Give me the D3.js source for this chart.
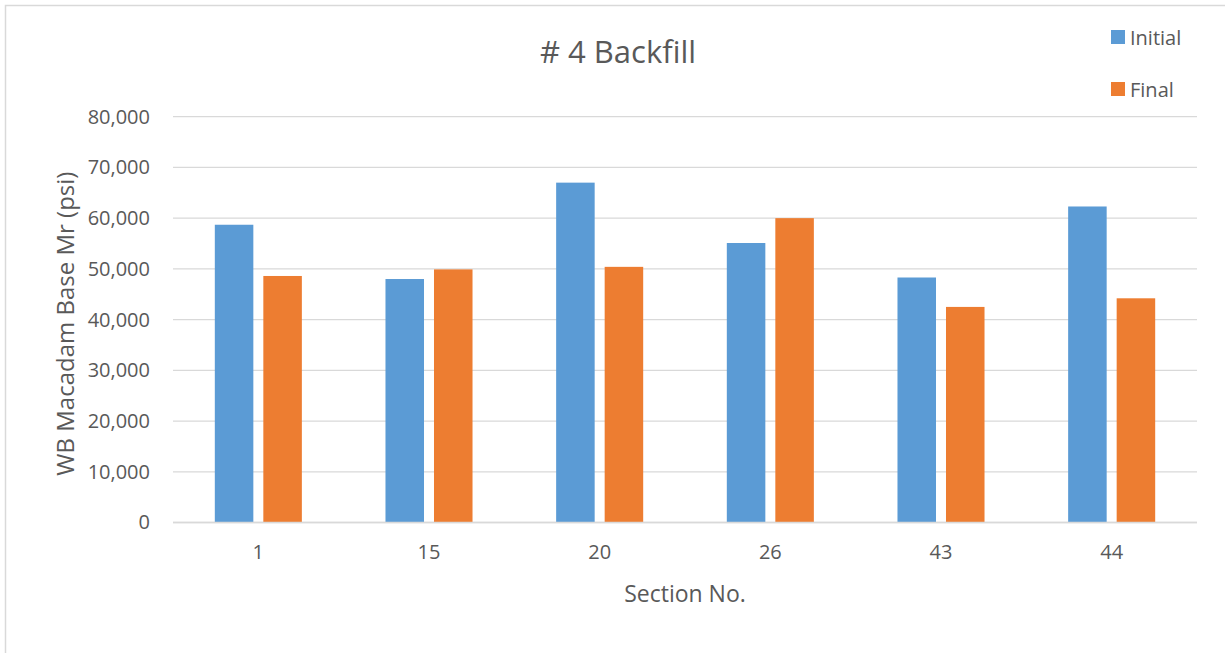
<!DOCTYPE html>
<html>
<head>
<meta charset="utf-8">
<script src="https://cdn.jsdelivr.net/npm/d3@7"></script>
<style>
  html, body { margin: 0; padding: 0; background: #fff; }
  svg { display: block; font-family: "Open Sans", sans-serif; }
</style>
</head>
<body>
<svg id="chart" width="1225" height="653"></svg>
<script>
// Section numbers along the x axis
const sections = ["1", "15", "20", "26", "43", "44"];
// Series names, drawn side by side within each section
const seriesNames = ["Initial", "Final"];
// Resilient modulus, psi
const initialValues = [58700, 48000, 67000, 55100, 48300, 62300];
const finalValues = [48600, 49900, 50400, 60000, 42500, 44200];
const seriesColors = ["#5B9BD5", "#ED7D31"];
const yTicks = [0, 10000, 20000, 30000, 40000, 50000, 60000, 70000, 80000];

const rows = sections.map((s, i) => ({ section: s, values: [initialValues[i], finalValues[i]] }));

const svg = d3.select("#chart");
const W = 1225, H = 653;
const plot = { left: 173, right: 1197, top: 116.7, bottom: 522.5 };

// chart area outline
svg.append("rect")
  .attr("x", 5.5).attr("y", 5.5)
  .attr("width", W + 20).attr("height", H + 20)
  .attr("fill", "#fff").attr("stroke", "#D9D9D9").attr("stroke-width", 1.5);

const x0 = d3.scaleBand().domain(sections).range([plot.left, plot.right]).paddingInner(0).paddingOuter(0);
const groupFrac = 0.51;
const x1 = d3.scaleBand().domain(seriesNames)
  .range([0, x0.bandwidth() * groupFrac]).paddingInner(0.206).paddingOuter(0);
const y = d3.scaleLinear().domain([0, 80000]).range([plot.bottom, plot.top]);

// gridlines
svg.append("g")
  .selectAll("line").data(yTicks).join("line")
  .attr("x1", plot.left).attr("x2", plot.right)
  .attr("y1", d => y(d)).attr("y2", d => y(d))
  .attr("stroke", "#D9D9D9").attr("stroke-width", 1.3);

// y axis labels
const yAxis = d3.axisLeft(y).tickValues(yTicks).tickSize(0).tickPadding(0)
  .tickFormat(d3.format(","));
svg.append("g").attr("transform", `translate(${plot.left - 23},0)`).call(yAxis)
  .call(g => g.select(".domain").remove())
  .call(g => g.selectAll("text").attr("fill", "#595959")
    .style("font-size", "20px").style("font-family", "'Open Sans', sans-serif"));

// bars
const groups = svg.append("g").selectAll("g").data(rows).join("g")
  .attr("transform", d => `translate(${x0(d.section) + x0.bandwidth() * (1 - groupFrac) / 2},0)`);
groups.selectAll("rect")
  .data(d => d.values.map((v, i) => ({ name: seriesNames[i], value: v, i })))
  .join("rect")
  .attr("x", d => x1(d.name))
  .attr("width", x1.bandwidth())
  .attr("y", d => y(d.value))
  .attr("height", d => y(0) - y(d.value))
  .attr("fill", d => seriesColors[d.i]);

// x axis baseline
svg.append("line")
  .attr("x1", plot.left).attr("x2", plot.right)
  .attr("y1", y(0)).attr("y2", y(0))
  .attr("stroke", "#D9D9D9").attr("stroke-width", 1.5);

// x axis labels
const xAxis = d3.axisBottom(x0).tickSize(0).tickPadding(0);
svg.append("g").attr("transform", `translate(0,${y(0) + 30})`).call(xAxis)
  .call(g => g.select(".domain").remove())
  .call(g => g.selectAll("text").attr("fill", "#595959").attr("dy", "0.32em")
    .style("font-size", "20px").style("font-family", "'Open Sans', sans-serif"));

// title
svg.append("text")
  .attr("x", (plot.left + plot.right) / 2 - 67).attr("y", 51)
  .attr("text-anchor", "middle").attr("dominant-baseline", "central")
  .attr("fill", "#595959").style("font-size", "31px")
  .text("# 4 Backfill");

// axis titles
svg.append("text")
  .attr("x", (plot.left + plot.right) / 2).attr("y", 593)
  .attr("text-anchor", "middle").attr("dominant-baseline", "central")
  .attr("fill", "#595959").style("font-size", "23px")
  .text("Section No.");

svg.append("text")
  .attr("transform", `translate(64,${(plot.top + plot.bottom) / 2 + 4}) rotate(-90)`)
  .attr("text-anchor", "middle").attr("dominant-baseline", "central")
  .attr("fill", "#595959").style("font-size", "24px")
  .text("WB Macadam Base Mr (psi)");

// legend
const legend = svg.append("g").selectAll("g").data(seriesNames).join("g")
  .attr("transform", (d, i) => `translate(1111,${30 + i * 52})`);
legend.append("rect").attr("width", 14).attr("height", 14)
  .attr("fill", (d, i) => seriesColors[i]);
legend.append("text").attr("x", 19).attr("y", 7)
  .attr("dominant-baseline", "central").attr("fill", "#595959")
  .style("font-size", "20px").text(d => d);
</script>
</body>
</html>
